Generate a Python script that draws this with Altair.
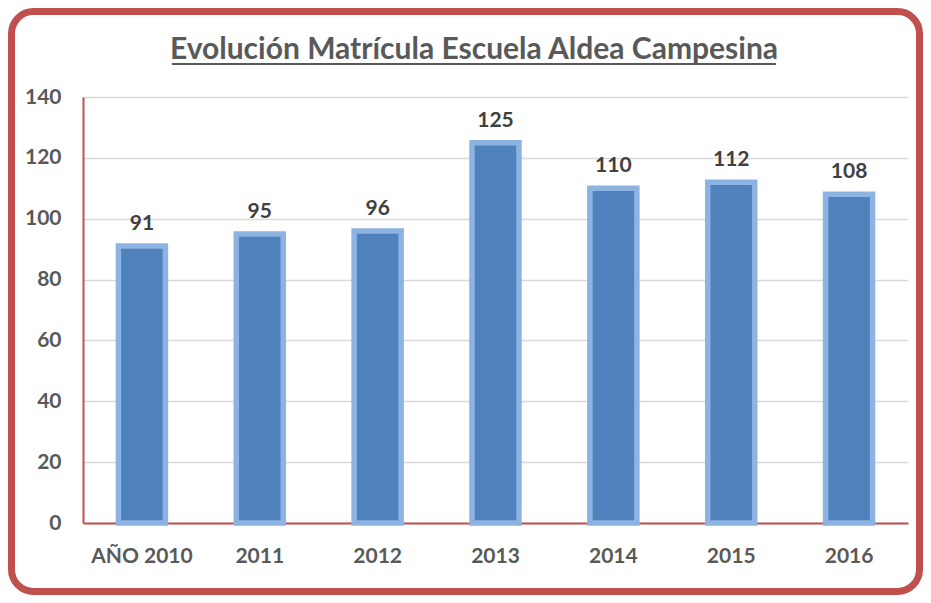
import altair as alt
import pandas as pd

years = ["AÑO 2010", "2011", "2012", "2013", "2014", "2015", "2016"]
enrollment = [91, 95, 96, 125, 110, 112, 108]
y_ticks = [0, 20, 40, 60, 80, 100, 120, 140]
title_text = "Evolución Matrícula Escuela Aldea Campesina"

FONT = "Lato"
RED = "#C0504D"
GRAY = "#595959"
WEIGHT = "bold"

df = pd.DataFrame({"year": years, "value": enrollment})

x_enc = alt.X(
    "year:N", sort=None,
    scale=alt.Scale(paddingInner=0, paddingOuter=0),
    axis=alt.Axis(title=None, labelAngle=0, ticks=False, tickSize=0,
                  domainColor=RED, domainWidth=2,
                  labelFont=FONT, labelFontSize=21, labelFontWeight=WEIGHT,
                  labelColor=GRAY, labelBaseline="alphabetic", labelPadding=39,
                  grid=False),
)
y_enc = alt.Y(
    "value:Q",
    scale=alt.Scale(domain=[0, 140], nice=False),
    axis=alt.Axis(title=None, values=y_ticks, ticks=False, tickSize=0,
                  domainColor=RED, domainWidth=2,
                  gridColor="#D9D9D9", gridWidth=1.5,
                  labelFont=FONT, labelFontSize=21, labelFontWeight=WEIGHT,
                  labelColor=GRAY, labelPadding=22),
)

base = alt.Chart(df)

bars = base.mark_bar(size=47, color="#4F81BD", stroke="#8DB3E2",
                     strokeWidth=5.5).encode(x=x_enc, y=y_enc)

labels = base.mark_text(dy=-16, baseline="alphabetic", font=FONT, fontSize=21,
                        fontWeight=WEIGHT, color="#404040").encode(
    x=alt.X("year:N", sort=None), y=alt.Y("value:Q"), text="value:Q")

tdf = pd.DataFrame({"t": [title_text]})
title = alt.Chart(tdf).mark_text(font=FONT, fontSize=30, fontWeight=WEIGHT,
                                 color=GRAY, align="center",
                                 baseline="alphabetic").encode(
    x=alt.value(391), y=alt.value(-38), text="t:N")

underline = alt.Chart(tdf).mark_rule(color=GRAY, strokeWidth=2).encode(
    x=alt.value(89), x2=alt.value(693), y=alt.value(-33))

border = alt.Chart(tdf).mark_rect(cornerRadius=22, fillOpacity=0, stroke=RED,
                                  strokeWidth=7).encode(
    x=alt.value(-71.5), x2=alt.value(836.5),
    y=alt.value(-85.5), y2=alt.value(494.5))

chart = alt.layer(bars, labels, title, underline, border).properties(
    width=825, height=426,
    autosize=alt.AutoSizeParams(type="none"),
    padding={"left": 75, "top": 89, "right": 15, "bottom": 72},
    background="white",
).configure_view(stroke=None)

chart.save("out.html", embed_options={"renderer": "svg", "actions": False})
